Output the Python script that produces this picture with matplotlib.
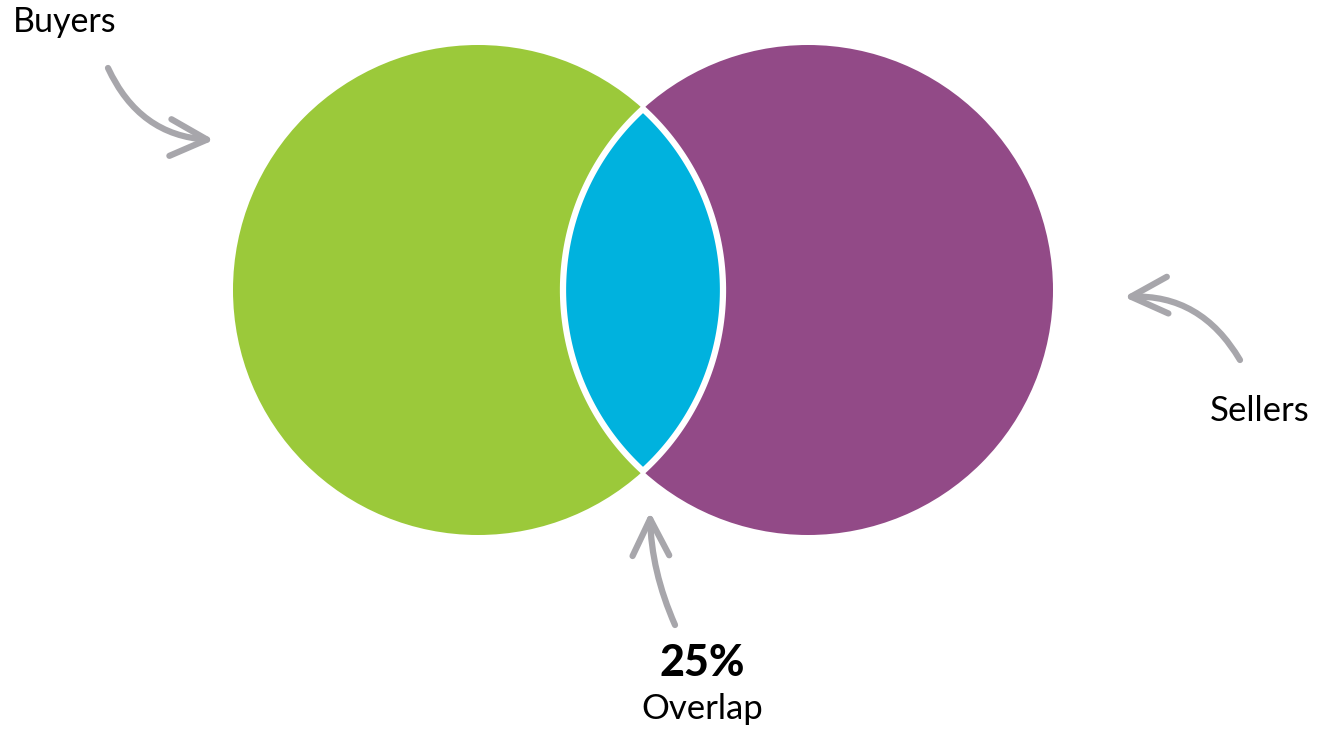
import numpy as np
import matplotlib.pyplot as plt
from matplotlib.patches import Circle, PathPatch, FancyArrowPatch
from matplotlib.path import Path

# set labels and overlap share
set_labels = ['Buyers', 'Sellers']
set_colors = ['#9bc93a', '#924a87']
overlap_pct = 25
overlap_label = 'Overlap'
overlap_color = '#00b2de'

# geometry in pixel space
cx = [478, 808]
cy = 290
r = 245

fig = plt.figure(figsize=(13.2, 7.31), dpi=100)
ax = fig.add_axes([0, 0, 1, 1])
ax.set_xlim(0, 1320)
ax.set_ylim(731, 0)
ax.set_aspect('equal')
ax.axis('off')

for x, c in zip(cx, set_colors):
    ax.add_patch(Circle((x, cy), r, facecolor=c, edgecolor='none'))

# lens made of two arcs
d = cx[1] - cx[0]
a = np.arccos((d / 2) / r)
t1 = np.linspace(-a, a, 100)
arc1 = np.column_stack([cx[0] + r * np.cos(t1), cy + r * np.sin(t1)])
t2 = np.linspace(np.pi - a, np.pi + a, 100)
arc2 = np.column_stack([cx[1] + r * np.cos(t2), cy + r * np.sin(t2)])
verts = np.vstack([arc1, arc2, arc1[:1]])
codes = [Path.MOVETO] + [Path.LINETO] * (len(verts) - 2) + [Path.CLOSEPOLY]
ax.add_patch(PathPatch(Path(verts, codes), facecolor=overlap_color,
                       edgecolor='white', lw=4.5, joinstyle='miter'))

grey = '#a7a6ab'
arrows = [((108, 68), (214, 140), 0.3),
          ((1240, 360), (1124, 297), 0.3),
          ((675, 625), (650, 512), -0.1)]
for start, end, rad in arrows:
    ax.add_patch(FancyArrowPatch(start, end, connectionstyle=f'arc3,rad={rad}',
                                 arrowstyle='->,head_length=1.2,head_width=0.6',
                                 mutation_scale=22, color=grey, lw=4.5,
                                 capstyle='round', joinstyle='round',
                                 shrinkA=0, shrinkB=0))

font = 'Lato'
ax.text(13, 22, set_labels[0], fontsize=24.5, family=font, va='center', ha='left')
ax.text(1310, 411, set_labels[1], fontsize=25, family=font, va='center', ha='right')
ax.text(702, 663, f'{overlap_pct}%', fontsize=31, family=font, weight=900,
        va='center', ha='center')
ax.text(702, 709, overlap_label, fontsize=25, family=font, va='center', ha='center')

fig.savefig('out.png', dpi=100, facecolor='white')
